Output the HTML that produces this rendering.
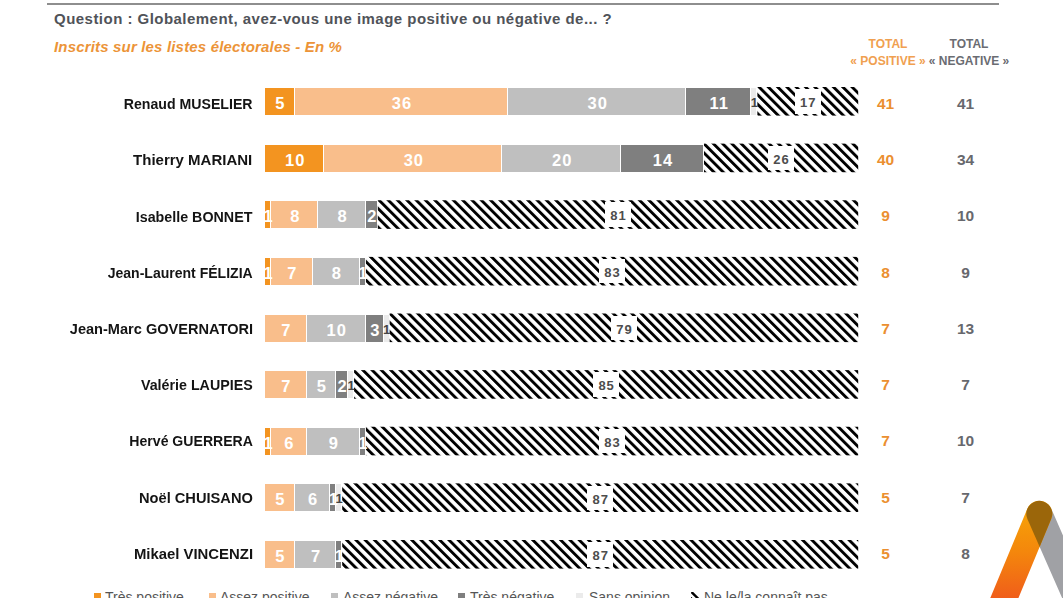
<!DOCTYPE html>
<html><head><meta charset="utf-8">
<style>
html,body{margin:0;padding:0;background:#fff;}
body{width:1063px;height:598px;position:relative;overflow:hidden;font-family:"Liberation Sans",sans-serif;}
.rule{position:absolute;left:47px;top:3px;width:952px;height:2px;background:#8E8E8E;}
.q{position:absolute;left:54px;top:9.8px;font-weight:bold;font-size:15px;color:#505359;white-space:nowrap;letter-spacing:0.47px;}
.sub{position:absolute;left:54px;top:38px;font-weight:bold;font-style:italic;font-size:15px;color:#EC9438;white-space:nowrap;letter-spacing:0.17px;}
.hd{position:absolute;font-weight:bold;font-size:12px;white-space:nowrap;text-align:center;width:100px;line-height:16.9px;}
.nm{position:absolute;right:810.3px;transform-origin:right center;height:27px;line-height:35px;font-weight:bold;font-size:14px;color:#141414;white-space:nowrap;}
.sg{position:absolute;height:27px;box-sizing:border-box;border-right:1px solid #fff;}
.lb{position:absolute;width:40px;height:27px;line-height:31px;text-align:center;white-space:nowrap;}
.wl{color:#fff;font-weight:bold;font-size:16.5px;letter-spacing:1px;text-indent:1px;}
.sl{color:#454545;font-weight:bold;font-size:13px;line-height:29px;}
.hb{position:absolute;width:26px;height:24.4px;line-height:27.1px;background:#fff;text-align:center;color:#4d4d4d;font-weight:bold;font-size:13px;letter-spacing:1px;text-indent:1px;}
.tp{position:absolute;left:865px;width:41px;text-align:center;height:27px;line-height:32px;font-weight:bold;font-size:15.5px;color:#EB8F30;}
.tn{position:absolute;left:945px;width:41px;text-align:center;height:27px;line-height:32px;font-weight:bold;font-size:15.5px;color:#67686d;}
.lg{position:absolute;top:589px;font-size:14px;color:#555;white-space:nowrap;}
.sq{position:absolute;top:593px;width:7px;height:7px;}
svg{position:absolute;left:0;top:0;}
</style></head><body>
<div class="rule"></div>
<div class="q">Question : Globalement, avez-vous une image positive ou négative de... ?</div>
<div class="sub">Inscrits sur les listes électorales - En %</div>
<div class="hd" style="left:838px;top:36px;color:#F0A050">TOTAL<br>« POSITIVE »</div>
<div class="hd" style="left:919px;top:36px;color:#6a6c72">TOTAL<br>« NEGATIVE »</div>
<div class="sg" style="left:265.10px;top:88.00px;width:29.65px;background:#F39420"></div>
<div class="sg" style="left:294.75px;top:88.00px;width:213.52px;background:#F9BE8B"></div>
<div class="sg" style="left:508.27px;top:88.00px;width:177.93px;background:#BFBFBF"></div>
<div class="sg" style="left:686.20px;top:88.00px;width:65.24px;background:#7F7F7F"></div>
<div class="sg" style="left:751.44px;top:88.00px;width:5.93px;background:#EBEBEB"></div>
<div class="sg" style="left:265.10px;top:144.62px;width:59.31px;background:#F39420"></div>
<div class="sg" style="left:324.41px;top:144.62px;width:177.93px;background:#F9BE8B"></div>
<div class="sg" style="left:502.34px;top:144.62px;width:118.62px;background:#BFBFBF"></div>
<div class="sg" style="left:620.96px;top:144.62px;width:83.03px;background:#7F7F7F"></div>
<div class="sg" style="left:265.10px;top:201.25px;width:5.93px;background:#F39420"></div>
<div class="sg" style="left:271.03px;top:201.25px;width:47.45px;background:#F9BE8B"></div>
<div class="sg" style="left:318.48px;top:201.25px;width:47.45px;background:#BFBFBF"></div>
<div class="sg" style="left:365.93px;top:201.25px;width:11.86px;background:#7F7F7F"></div>
<div class="sg" style="left:265.10px;top:257.88px;width:5.93px;background:#F39420"></div>
<div class="sg" style="left:271.03px;top:257.88px;width:41.52px;background:#F9BE8B"></div>
<div class="sg" style="left:312.55px;top:257.88px;width:47.45px;background:#BFBFBF"></div>
<div class="sg" style="left:360.00px;top:257.88px;width:5.93px;background:#7F7F7F"></div>
<div class="sg" style="left:265.10px;top:314.50px;width:41.52px;background:#F9BE8B"></div>
<div class="sg" style="left:306.62px;top:314.50px;width:59.31px;background:#BFBFBF"></div>
<div class="sg" style="left:365.93px;top:314.50px;width:17.79px;background:#7F7F7F"></div>
<div class="sg" style="left:383.72px;top:314.50px;width:5.93px;background:#EBEBEB"></div>
<div class="sg" style="left:265.10px;top:371.12px;width:41.52px;background:#F9BE8B"></div>
<div class="sg" style="left:306.62px;top:371.12px;width:29.66px;background:#BFBFBF"></div>
<div class="sg" style="left:336.27px;top:371.12px;width:11.86px;background:#7F7F7F"></div>
<div class="sg" style="left:348.13px;top:371.12px;width:5.93px;background:#EBEBEB"></div>
<div class="sg" style="left:265.10px;top:427.75px;width:5.93px;background:#F39420"></div>
<div class="sg" style="left:271.03px;top:427.75px;width:35.59px;background:#F9BE8B"></div>
<div class="sg" style="left:306.62px;top:427.75px;width:53.38px;background:#BFBFBF"></div>
<div class="sg" style="left:360.00px;top:427.75px;width:5.93px;background:#7F7F7F"></div>
<div class="sg" style="left:265.10px;top:484.38px;width:29.65px;background:#F9BE8B"></div>
<div class="sg" style="left:294.75px;top:484.38px;width:35.59px;background:#BFBFBF"></div>
<div class="sg" style="left:330.34px;top:484.38px;width:5.93px;background:#7F7F7F"></div>
<div class="sg" style="left:336.27px;top:484.38px;width:5.93px;background:#EBEBEB"></div>
<div class="sg" style="left:265.10px;top:541.00px;width:29.65px;background:#F9BE8B"></div>
<div class="sg" style="left:294.75px;top:541.00px;width:41.52px;background:#BFBFBF"></div>
<div class="sg" style="left:336.27px;top:541.00px;width:5.93px;background:#7F7F7F"></div>
<svg width="1063" height="598" viewBox="0 0 1063 598">
<defs>
<pattern id="hp" patternUnits="userSpaceOnUse" width="6.58" height="20" patternTransform="rotate(-45)">
<rect x="0" y="0" width="6.58" height="20" fill="#fff"/>
<rect x="0" y="0" width="2.9" height="20" fill="#000"/>
</pattern>
</defs>
<rect x="757.37" y="87.00" width="100.83" height="28.60" fill="url(#hp)"/>
<rect x="703.99" y="143.62" width="154.21" height="28.60" fill="url(#hp)"/>
<rect x="377.79" y="200.25" width="480.41" height="28.60" fill="url(#hp)"/>
<rect x="365.93" y="256.88" width="492.27" height="28.60" fill="url(#hp)"/>
<rect x="389.65" y="313.50" width="468.55" height="28.60" fill="url(#hp)"/>
<rect x="354.07" y="370.12" width="504.13" height="28.60" fill="url(#hp)"/>
<rect x="365.93" y="426.75" width="492.27" height="28.60" fill="url(#hp)"/>
<rect x="342.20" y="483.38" width="516.00" height="28.60" fill="url(#hp)"/>
<rect x="342.20" y="540.00" width="516.00" height="28.60" fill="url(#hp)"/>
</svg>
<div class="nm" style="top:87.20px;transform:scaleX(1.0095)">Renaud MUSELIER</div>
<div class="lb wl" style="left:259.93px;top:88.00px">5</div>
<div class="lb wl" style="left:381.51px;top:88.00px">36</div>
<div class="lb wl" style="left:577.24px;top:88.00px">30</div>
<div class="lb wl" style="left:698.82px;top:88.00px">11</div>
<div class="lb sl" style="left:734.41px;top:88.00px">1</div>
<div class="hb" style="left:794.79px;top:89.20px">17</div>
<div class="tp" style="top:87.60px">41</div>
<div class="tn" style="top:87.60px">41</div>
<div class="nm" style="top:143.40px;transform:scaleX(1.071)">Thierry MARIANI</div>
<div class="lb wl" style="left:274.75px;top:144.62px">10</div>
<div class="lb wl" style="left:393.38px;top:144.62px">30</div>
<div class="lb wl" style="left:541.65px;top:144.62px">20</div>
<div class="lb wl" style="left:642.48px;top:144.62px">14</div>
<div class="hb" style="left:768.10px;top:145.82px">26</div>
<div class="tp" style="top:143.91px">40</div>
<div class="tn" style="top:143.91px">34</div>
<div class="nm" style="top:199.60px;transform:scaleX(1.0194)">Isabelle BONNET</div>
<div class="lb wl" style="left:248.07px;top:201.25px">1</div>
<div class="lb wl" style="left:274.75px;top:201.25px">8</div>
<div class="lb wl" style="left:322.20px;top:201.25px">8</div>
<div class="lb wl" style="left:351.86px;top:201.25px">2</div>
<div class="hb" style="left:604.99px;top:202.45px">81</div>
<div class="tp" style="top:200.22px">9</div>
<div class="tn" style="top:200.22px">10</div>
<div class="nm" style="top:255.80px;transform:scaleX(1.0025)">Jean-Laurent FÉLIZIA</div>
<div class="lb wl" style="left:248.07px;top:257.88px">1</div>
<div class="lb wl" style="left:271.79px;top:257.88px">7</div>
<div class="lb wl" style="left:316.27px;top:257.88px">8</div>
<div class="lb wl" style="left:342.96px;top:257.88px">1</div>
<div class="hb" style="left:599.06px;top:259.07px">83</div>
<div class="tp" style="top:256.53px">8</div>
<div class="tn" style="top:256.53px">9</div>
<div class="nm" style="top:312.00px;transform:scaleX(1.041)">Jean-Marc GOVERNATORI</div>
<div class="lb wl" style="left:265.86px;top:314.50px">7</div>
<div class="lb wl" style="left:316.27px;top:314.50px">10</div>
<div class="lb wl" style="left:354.82px;top:314.50px">3</div>
<div class="lb sl" style="left:366.69px;top:314.50px">1</div>
<div class="hb" style="left:610.93px;top:315.70px">79</div>
<div class="tp" style="top:312.84px">7</div>
<div class="tn" style="top:312.84px">13</div>
<div class="nm" style="top:368.20px;transform:scaleX(1.0187)">Valérie LAUPIES</div>
<div class="lb wl" style="left:265.86px;top:371.12px">7</div>
<div class="lb wl" style="left:301.44px;top:371.12px">5</div>
<div class="lb wl" style="left:322.20px;top:371.12px">2</div>
<div class="lb sl" style="left:331.10px;top:371.12px">1</div>
<div class="hb" style="left:593.13px;top:372.32px">85</div>
<div class="tp" style="top:369.15px">7</div>
<div class="tn" style="top:369.15px">7</div>
<div class="nm" style="top:424.40px;transform:scaleX(1.0054)">Hervé GUERRERA</div>
<div class="lb wl" style="left:248.07px;top:427.75px">1</div>
<div class="lb wl" style="left:268.82px;top:427.75px">6</div>
<div class="lb wl" style="left:313.31px;top:427.75px">9</div>
<div class="lb wl" style="left:342.96px;top:427.75px">1</div>
<div class="hb" style="left:599.06px;top:428.95px">83</div>
<div class="tp" style="top:425.46px">7</div>
<div class="tn" style="top:425.46px">10</div>
<div class="nm" style="top:480.60px;transform:scaleX(1.0463)">Noël CHUISANO</div>
<div class="lb wl" style="left:259.93px;top:484.38px">5</div>
<div class="lb wl" style="left:292.55px;top:484.38px">6</div>
<div class="lb wl" style="left:313.31px;top:484.38px">1</div>
<div class="lb sl" style="left:319.24px;top:484.38px">1</div>
<div class="hb" style="left:587.20px;top:485.57px">87</div>
<div class="tp" style="top:481.77px">5</div>
<div class="tn" style="top:481.77px">7</div>
<div class="nm" style="top:536.80px;transform:scaleX(1.0634)">Mikael VINCENZI</div>
<div class="lb wl" style="left:259.93px;top:541.00px">5</div>
<div class="lb wl" style="left:295.51px;top:541.00px">7</div>
<div class="lb wl" style="left:319.24px;top:541.00px">1</div>
<div class="hb" style="left:587.20px;top:542.20px">87</div>
<div class="tp" style="top:538.08px">5</div>
<div class="tn" style="top:538.08px">8</div>
<div class="sq" style="left:94px;background:#F39420"></div><div class="lg" style="left:105px">Très positive</div>
<div class="sq" style="left:209px;background:#F9BE8B"></div><div class="lg" style="left:220px">Assez positive</div>
<div class="sq" style="left:331px;background:#BFBFBF"></div><div class="lg" style="left:343px">Assez négative</div>
<div class="sq" style="left:458px;background:#7F7F7F"></div><div class="lg" style="left:470px">Très négative</div>
<div class="sq" style="left:576px;background:#EBEBEB"></div><div class="lg" style="left:589px">Sans opinion</div>
<svg style="left:691px;top:592px" width="9" height="7" viewBox="0 0 9 7"><line x1="0.5" y1="0" x2="8" y2="7.5" stroke="#000" stroke-width="2.4"/><line x1="-1" y1="5" x2="1.5" y2="7.5" stroke="#000" stroke-width="2"/></svg>
<div class="lg" style="left:704px">Ne le/la connaît pas</div>
<svg width="1063" height="598" viewBox="0 0 1063 598">
<defs>
<linearGradient id="og" x1="0" y1="505" x2="0" y2="598" gradientUnits="userSpaceOnUse">
<stop offset="0" stop-color="#F7A506"/><stop offset="0.5" stop-color="#F4870C"/><stop offset="1" stop-color="#F05E1A"/>
</linearGradient>
<mask id="gm" maskUnits="userSpaceOnUse" x="900" y="400" width="200" height="250"><line x1="1039.3" y1="513.8" x2="1083.3" y2="613.8" stroke="#fff" stroke-width="26" stroke-linecap="round"/></mask>
</defs>
<line x1="1039.3" y1="513.8" x2="1083.3" y2="613.8" stroke="#A0A1A5" stroke-width="26" stroke-linecap="round"/>
<line x1="1039.3" y1="513.8" x2="997.8" y2="613.8" stroke="url(#og)" stroke-width="26" stroke-linecap="round"/>
<line x1="1039.3" y1="513.8" x2="997.8" y2="613.8" stroke="#9B660A" stroke-width="26" stroke-linecap="round" mask="url(#gm)"/>
</svg>
</body></html>
